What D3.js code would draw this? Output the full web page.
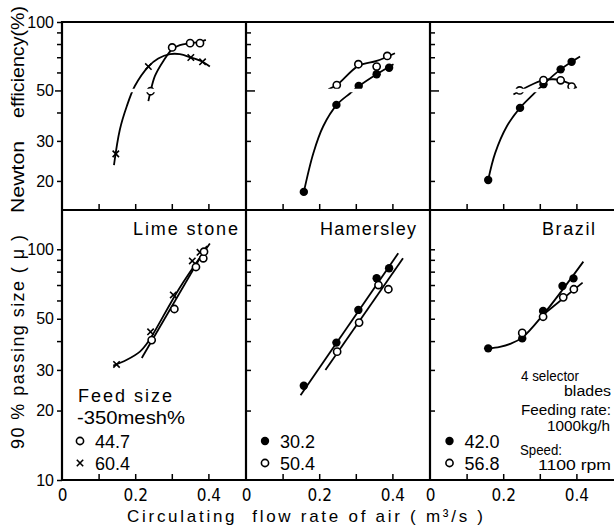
<!DOCTYPE html>
<html>
<head>
<meta charset="utf-8">
<script src="https://cdn.jsdelivr.net/npm/d3@7"></script>
<style>
body{margin:0;background:#fff;}
svg{display:block;font-family:"Liberation Sans",Arial,sans-serif;}
</style>
</head>
<body>
<svg id="chart" width="614" height="527"></svg>
<script>
/* Data */
// x: circulating flow rate of air (m3/s), y: Newton efficiency (%) / 90% passing size (micron)
var PANEL_NAMES=["Lime stone","Hamersley","Brazil"];
var X_TICKS=[0.1,0.2,0.3,0.4];
var X_LABELS=[0,0.2,0.4];
var EFF_TICKS=[20,30,40,50,60,70,80,90];
var EFF_LABELS=[100,50,30,20];
var SIZE_TICKS=[20,30,40,50,60,70,80,90,100];
var SIZE_LABELS=[100,50,30,20,10];

// Lime stone, feed -350mesh 44.7% (open) and 60.4% (cross)
var LIME_EFF_447=[[0.242,49.6],[0.301,77.3],[0.350,80.7],[0.377,80.7]];
var LIME_EFF_447_FIT=[[0.236,44.9],[0.242,49.6],[0.254,57.9],[0.277,67.4],[0.301,75.9],[0.322,79.1],[0.350,80.7],[0.377,81.8],[0.393,83.5]];
var LIME_EFF_604=[[0.147,26.3],[0.236,63.7],[0.352,69.8],[0.384,66.8]];
var LIME_EFF_604_FIT=[[0.142,23.5],[0.158,33.6],[0.177,42.6],[0.199,52.3],[0.236,63.7],[0.263,69.1],[0.295,72.2],[0.322,72.2],[0.352,69.8],[0.384,66.8],[0.404,63.7]];
var LIME_SIZE_447=[[0.245,40.4],[0.307,55.1],[0.366,83.8],[0.386,91.4],[0.388,97.6]];
var LIME_SIZE_447_FIT=[[0.218,33.8],[0.396,103.3]];
var LIME_SIZE_604=[[0.149,31.7],[0.242,43.9],[0.304,63.4],[0.356,89],[0.377,97]];
var LIME_SIZE_604_FIT=[[0.140,31.3],[0.176,33.1],[0.213,36.0],[0.236,39.8],[0.320,67.5],[0.404,106]];

// Hamersley, 30.2% (filled) and 50.4% (open)
var HAM_EFF_302=[[0.158,17.9],[0.247,43.2],[0.308,52.3],[0.357,58.9],[0.391,62.9]];
var HAM_EFF_302_FIT=[[0.158,17.9],[0.184,26.5],[0.211,34.8],[0.249,43.4],[0.284,48.5],[0.309,52.3],[0.357,58.9],[0.403,65.2]];
var HAM_EFF_504=[[0.248,52.8],[0.307,65.2],[0.357,63.7],[0.386,70.9]];
var HAM_EFF_504_FIT=[[0.225,50.6],[0.248,52.8],[0.307,64.1],[0.357,67.4],[0.407,72.9]];
var HAM_SIZE_302=[[0.158,25.6],[0.247,39.4],[0.307,54.6],[0.357,74.9],[0.391,82.7]];
var HAM_SIZE_302_FIT=[[0.149,23.3],[0.416,96.1]];
var HAM_SIZE_504=[[0.249,36.0],[0.309,48.1],[0.362,70.0],[0.389,67.1]];
var HAM_SIZE_504_FIT=[[0.217,30.0],[0.429,91.4]];

// Brazil, 42.0% (filled) and 56.8% (open)
var BRA_EFF_420=[[0.159,20.2],[0.246,41.9],[0.310,53.2],[0.357,61.9],[0.387,66.8]];
var BRA_EFF_420_FIT=[[0.159,20.2],[0.178,26.5],[0.210,34.8],[0.246,41.9],[0.282,48],[0.310,53.2],[0.357,61.9],[0.410,70.5]];
var BRA_EFF_568=[[0.245,50],[0.310,55.5],[0.357,55.4],[0.387,52]];
var BRA_EFF_568_FIT=[[0.228,48],[0.273,52.6],[0.310,55.5],[0.337,56],[0.357,55.4],[0.383,53.5],[0.401,51.4]];
var BRA_SIZE_420=[[0.159,37.2],[0.252,41.1],[0.309,54.0],[0.362,69.3],[0.392,74.8]];
var BRA_SIZE_420_FIT=[[0.159,37.2],[0.191,37.8],[0.219,38.9],[0.252,41.4],[0.309,52.0],[0.419,88.4]];
var BRA_SIZE_568=[[0.252,43.4],[0.309,51.0],[0.364,61.9],[0.393,67.1]];
var BRA_SIZE_568_FIT=[[0.309,52.0],[0.417,71.7]];

var LEGEND_FEED=[["open","44.7"],["cross","60.4"],["filled","30.2"],["open","50.4"],["filled","42.0"],["open","56.8"]];

var SERIES=[
	[{mark:"cross",eff:LIME_EFF_604,effFit:LIME_EFF_604_FIT,size:LIME_SIZE_604,sizeFit:LIME_SIZE_604_FIT},
	 {mark:"open",eff:LIME_EFF_447,effFit:LIME_EFF_447_FIT,size:LIME_SIZE_447,sizeFit:LIME_SIZE_447_FIT}],
	[{mark:"filled",eff:HAM_EFF_302,effFit:HAM_EFF_302_FIT,size:HAM_SIZE_302,sizeFit:HAM_SIZE_302_FIT},
	 {mark:"open",eff:HAM_EFF_504,effFit:HAM_EFF_504_FIT,size:HAM_SIZE_504,sizeFit:HAM_SIZE_504_FIT}],
	[{mark:"filled",eff:BRA_EFF_420,effFit:BRA_EFF_420_FIT,size:BRA_SIZE_420,sizeFit:BRA_SIZE_420_FIT},
	 {mark:"open",eff:BRA_EFF_568,effFit:BRA_EFF_568_FIT,size:BRA_SIZE_568,sizeFit:BRA_SIZE_568_FIT}]
];

/* Layout config */
var PANEL_LEFT=[62,246,430];
var PANEL_WIDTH=183;
var TOP=22;
var MID=210;
var BOTTOM=480;
var NARROW='"Liberation Sans Narrow","DejaVu Sans Condensed",sans-serif';

var svg=d3.select("#chart");
var yEff=d3.scaleLog().domain([14.9,100]).range([MID,TOP]);
var ySize=d3.scaleLog().domain([10,148]).range([BOTTOM,MID]);
function xScale(i){
	return d3.scaleLinear().domain([0,0.5]).range([PANEL_LEFT[i],PANEL_LEFT[i]+PANEL_WIDTH]);
}

// marker helper
function drawMarker(g,type,cx,cy){
	if(type=="open"){
		g.append("circle").attr("cx",cx).attr("cy",cy).attr("r",3.6)
			.style("fill","#fff").style("stroke","#000").style("stroke-width",1.6);
	}
	else if(type=="filled"){
		g.append("circle").attr("cx",cx).attr("cy",cy).attr("r",4.2).style("fill","#000");
	}
	else{
		var s=3.2;
		g.append("path").attr("d","M"+(cx-s)+","+(cy-s)+"L"+(cx+s)+","+(cy+s)+"M"+(cx-s)+","+(cy+s)+"L"+(cx+s)+","+(cy-s))
			.style("stroke","#000").style("stroke-width",1.6);
	}
}

function drawSeries(){
	for(var i=0;i<3;i++){
		var x=xScale(i);
		var g=svg.append("g").attr("class","series");
		SERIES[i].forEach(function(s){
			var lineEff=d3.line().x(function(d){return x(d[0]);}).y(function(d){return yEff(d[1]);}).curve(d3.curveCatmullRom);
			var lineSize=d3.line().x(function(d){return x(d[0]);}).y(function(d){return ySize(d[1]);}).curve(d3.curveCatmullRom);
			g.append("path").attr("d",lineEff(s.effFit)).style("fill","none").style("stroke","#000").style("stroke-width",1.8);
			g.append("path").attr("d",lineSize(s.sizeFit)).style("fill","none").style("stroke","#000").style("stroke-width",1.8);
		});
		SERIES[i].forEach(function(s){
			s.eff.forEach(function(d){drawMarker(g,s.mark,x(d[0]),yEff(d[1]));});
			s.size.forEach(function(d){drawMarker(g,s.mark,x(d[0]),ySize(d[1]));});
		});
		// white gap of the scan at 50 %
		g.append("line")
			.attr("x1",PANEL_LEFT[i]+2).attr("x2",PANEL_LEFT[i]+PANEL_WIDTH-1)
			.attr("y1",yEff(50)).attr("y2",yEff(50))
			.style("stroke","#fff").style("stroke-width",3.4);
	}
}

function drawFrame(){
	var g=svg.append("g").attr("class","frame").style("stroke","#000").style("stroke-width",2.2);
	[TOP,MID,BOTTOM].forEach(function(y){
		g.append("line").attr("x1",PANEL_LEFT[0]).attr("x2",614).attr("y1",y).attr("y2",y);
	});
	PANEL_LEFT.forEach(function(x){
		g.append("line").attr("x1",x).attr("x2",x).attr("y1",TOP-1).attr("y2",BOTTOM+1);
	});
}

function styleAxis(g,size,family){
	g.select(".domain").remove();
	g.selectAll(".tick line").style("stroke","#000").style("stroke-width",1.5);
	g.selectAll(".tick text").style("fill","#000").style("font-size",size+"px").style("font-family",family);
}

function drawAxes(){
	for(var i=0;i<3;i++){
		var x=xScale(i);
		var ax;
		if(i==0){
			ax=d3.axisLeft(yEff).tickValues(EFF_TICKS.concat([100])).tickSize(5).tickPadding(3)
				.tickFormat(function(d){return EFF_LABELS.indexOf(d)>=0?d:"";});
		}
		else{
			ax=d3.axisRight(yEff).tickValues(EFF_TICKS).tickSize(5).tickFormat("");
		}
		var g=svg.append("g").attr("transform","translate("+PANEL_LEFT[i]+",0)").call(ax);
		styleAxis(g,16,'"Liberation Sans",Arial,sans-serif');
		g.selectAll(".tick").filter(function(d){return d==50;}).select("line").attr("x2",i==0?-7:9);

		if(i==0){
			ax=d3.axisLeft(ySize).tickValues(SIZE_TICKS.concat([10])).tickSize(5).tickPadding(3)
				.tickFormat(function(d){return SIZE_LABELS.indexOf(d)>=0?d:"";});
		}
		else{
			ax=d3.axisRight(ySize).tickValues(SIZE_TICKS).tickSize(5).tickFormat("");
		}
		g=svg.append("g").attr("transform","translate("+PANEL_LEFT[i]+",0)").call(ax);
		styleAxis(g,16,'"Liberation Sans",Arial,sans-serif');

		// inside ticks on the divider and on the bottom
		[MID,BOTTOM].forEach(function(y){
			var gt=svg.append("g").attr("transform","translate(0,"+y+")")
				.call(d3.axisTop(x).tickValues(X_TICKS).tickSize(6).tickFormat(""));
			styleAxis(gt,16,NARROW);
		});
		var gl=svg.append("g").attr("transform","translate(0,"+BOTTOM+")")
			.call(d3.axisBottom(x).tickValues(X_LABELS).tickSize(0).tickPadding(9)
				.tickFormat(function(d){return d==0?"0":d3.format(".1f")(d);}));
		styleAxis(gl,17,NARROW);
	}
}

function drawTexts(){
	// axis titles
	svg.append("text").text("Newton").attr("transform","translate(24,177) rotate(-90)")
		.attr("text-anchor","middle").style("font-size","18px").attr("textLength",72).attr("lengthAdjust","spacingAndGlyphs");
	svg.append("text").text("efficiency(%)").attr("transform","translate(24,62) rotate(-90)")
		.attr("text-anchor","middle").style("font-size","18px").attr("textLength",112).attr("lengthAdjust","spacingAndGlyphs");
	svg.append("text").text("90 % passing size ( μ )").attr("transform","translate(24,342) rotate(-90)")
		.attr("text-anchor","middle").style("font-size","18px").attr("textLength",214).attr("lengthAdjust","spacing");
	svg.append("text").text("Circulating  flow rate of air ( m³/s )").attr("x",305).attr("y",522)
		.attr("text-anchor","middle").style("font-size","17px").attr("textLength",356).attr("lengthAdjust","spacing")
		.style("white-space","pre");

	// panel titles
	var titleRight=[238,416,595];
	var titleLen=[105,96,53];
	PANEL_NAMES.forEach(function(n,i){
		svg.append("text").text(n).attr("x",titleRight[i]-titleLen[i]).attr("y",235)
			.style("font-size","18px").attr("textLength",titleLen[i]).attr("lengthAdjust","spacing");
	});

	// legend
	svg.append("text").text("Feed size").attr("x",78).attr("y",402).style("font-size","18px")
		.attr("textLength",94).attr("lengthAdjust","spacing");
	svg.append("text").text("-350mesh%").attr("x",77).attr("y",424).style("font-size","18px")
		.attr("textLength",108).attr("lengthAdjust","spacingAndGlyphs");
	var symX=[80,265,449.5];
	var rowY=[441,463];
	LEGEND_FEED.forEach(function(l,k){
		var p=Math.floor(k/2), r=k%2;
		drawMarker(svg,l[0],symX[p],rowY[r]);
		svg.append("text").text(l[1]).attr("x",symX[p]+15).attr("y",rowY[r]+7).style("font-size","18px");
	});

	// run conditions
	var notes=[["4 selector",521,381,58],["blades",564,396,47],["Feeding rate:",521,415,90],
		["1000kg/h",547,431,63],["Speed:",520,455,42],["1100 rpm",538,470,73]];
	notes.forEach(function(n){
		svg.append("text").text(n[0]).attr("x",n[1]).attr("y",n[2]).style("font-size","14px")
			.attr("textLength",n[3]).attr("lengthAdjust","spacingAndGlyphs");
	});
}

drawSeries();
drawFrame();
drawAxes();
drawTexts();
</script>
</body>
</html>
